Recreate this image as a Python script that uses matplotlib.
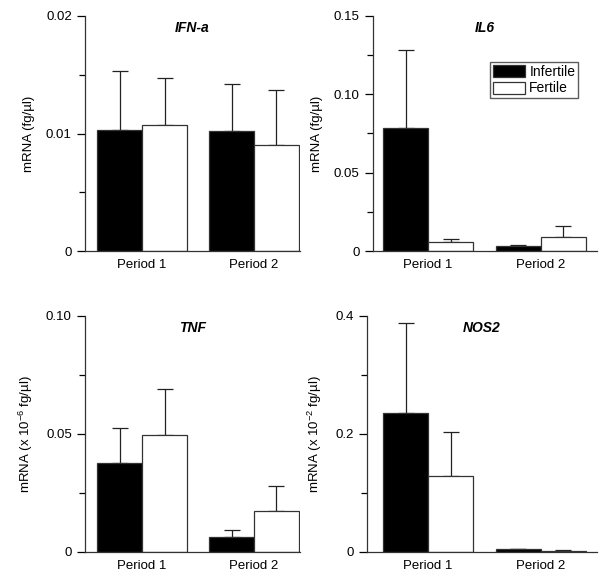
import matplotlib
matplotlib.use("Agg")
import matplotlib.pyplot as plt
import numpy as np

plt.rcParams["font.family"] = ["Liberation Sans", "DejaVu Sans"]
plt.rcParams["mathtext.fontset"] = "custom"
plt.rcParams["mathtext.rm"] = "Liberation Sans"
plt.rcParams["mathtext.default"] = "regular"

periods = ["Period 1", "Period 2"]
groups = ["Infertile", "Fertile"]

ifn_mean = {"Infertile": [0.0103, 0.0102], "Fertile": [0.0107, 0.0090]}
ifn_err = {"Infertile": [0.0050, 0.0040], "Fertile": [0.0040, 0.0047]}

il6_mean = {"Infertile": [0.0783, 0.0032], "Fertile": [0.0060, 0.0087]}
il6_err = {"Infertile": [0.0500, 0.0006], "Fertile": [0.0019, 0.0075]}

tnf_mean = {"Infertile": [0.0376, 0.0062], "Fertile": [0.0496, 0.0171]}
tnf_err = {"Infertile": [0.0148, 0.0030], "Fertile": [0.0193, 0.0107]}

nos2_mean = {"Infertile": [0.2345, 0.0040], "Fertile": [0.1288, 0.0015]}
nos2_err = {"Infertile": [0.1525, 0.0010], "Fertile": [0.0746, 0.0010]}

colors = {"Infertile": "black", "Fertile": "white"}

panels = [
    # title, means, errs, ymax, ticks, ticklabels, ylabel, axes rect, xlim
    ("IFN-a", ifn_mean, ifn_err, 0.02, [0, 0.01, 0.02], ["0", "0.01", "0.02"],
     "mRNA (fg/\u00b5l)", [85 / 600, 1 - 251 / 578, 215 / 600, 235 / 578], (-0.51, 1.41)),
    ("IL6", il6_mean, il6_err, 0.15, [0, 0.05, 0.10, 0.15], ["0", "0.05", "0.10", "0.15"],
     "mRNA (fg/\u00b5l)", [372.7 / 600, 1 - 251 / 578, 224.3 / 600, 235 / 578], (-0.492, 1.5)),
    ("TNF", tnf_mean, tnf_err, 0.10, [0, 0.05, 0.10], ["0", "0.05", "0.10"],
     "mRNA (x 10$^{-6}$ fg/\u00b5l)", [85 / 600, 1 - 551.7 / 578, 215 / 600, 236 / 578], (-0.51, 1.41)),
    ("NOS2", nos2_mean, nos2_err, 0.4, [0, 0.2, 0.4], ["0", "0.2", "0.4"],
     "mRNA (x 10$^{-2}$ fg/\u00b5l)", [366.7 / 600, 1 - 551.7 / 578, 230.3 / 600, 236 / 578], (-0.546, 1.5)),
]

fig = plt.figure(figsize=(6, 5.78), dpi=100)
x = np.arange(len(periods))
width = 0.4

for title, means, errs, ymax, ticks, ticklabels, ylabel, rect, xlim in panels:
    ax = fig.add_axes(rect)
    for i, g in enumerate(groups):
        pos = x - width / 2 + i * width
        ax.bar(pos, means[g], width, color=colors[g], edgecolor="#333333",
               linewidth=0.9, label=g, zorder=2)
        ax.errorbar(pos, means[g], yerr=[np.zeros(len(periods)), errs[g]],
                    fmt="none", ecolor="#222222", elinewidth=0.9, capsize=6,
                    capthick=0.9, zorder=1)
    ax.set_xlim(*xlim)
    ax.set_ylim(0, ymax)
    ax.set_yticks(ticks)
    ax.set_yticklabels(ticklabels, fontsize=9.5)
    ax.set_yticks([(a + b) / 2 for a, b in zip(ticks[:-1], ticks[1:])], minor=True)
    ax.tick_params(axis="y", which="major", length=6, width=0.9, direction="out")
    ax.tick_params(axis="y", which="minor", length=4, width=0.9, direction="out")
    ax.set_xticks(x)
    ax.set_xticklabels(periods, fontsize=9.5)
    ax.tick_params(axis="x", length=0, pad=6)
    ax.set_ylabel(ylabel, fontsize=9.5, labelpad=8)
    for side in ["top", "right"]:
        ax.spines[side].set_visible(False)
    for side in ["left", "bottom"]:
        ax.spines[side].set_linewidth(0.9)
        ax.spines[side].set_color("#333333")
    ax.text(0.5, 0.95, title, transform=ax.transAxes, ha="center", va="center",
            fontsize=10, fontweight="bold", fontstyle="italic")
    if title == "IL6":
        ax.legend(loc="upper left", bbox_to_anchor=(0.525, 0.805), fontsize=10,
                  frameon=True, fancybox=False, edgecolor="#333333",
                  handlelength=2.3, handleheight=0.95, handletextpad=0.3,
                  borderpad=0.2, labelspacing=0.2, borderaxespad=0)

fig.savefig("out.png", dpi=100)
